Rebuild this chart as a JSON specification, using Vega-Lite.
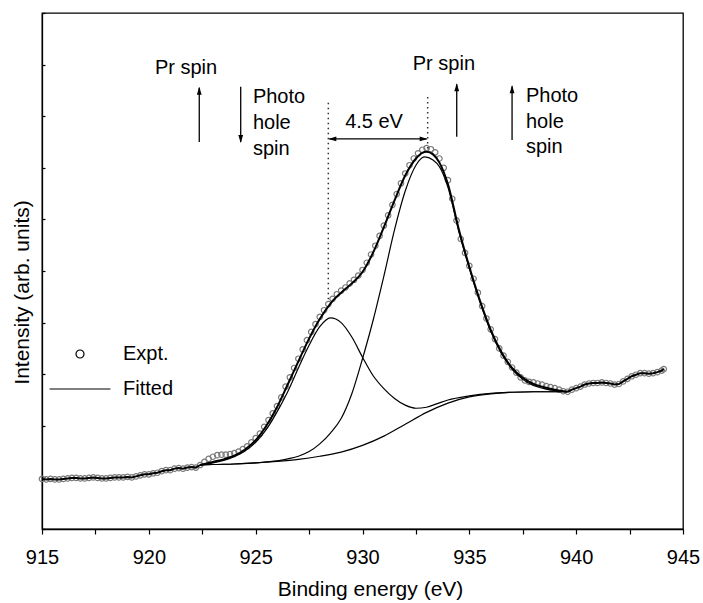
{
  "$schema": "https://vega.github.io/schema/vega-lite/v6.json",
  "width": 641,
  "height": 516,
  "autosize": {"type": "none"},
  "padding": {"left": 42, "top": 13, "right": 20, "bottom": 74},
  "background": "white",
  "config": {
    "font": "Liberation Sans",
    "view": {"stroke": "black", "strokeWidth": 1.3},
    "axis": {"domainColor": "black", "tickColor": "black", "labelColor": "black", "titleColor": "black", "grid": false, "labelFont": "Liberation Sans", "titleFont": "Liberation Sans", "titleFontWeight": "normal", "domainWidth": 1.3, "tickWidth": 1.2},
    "legend": {"labelFont": "Liberation Sans"}
  },
  "datasets": {
    "expt": [
      {"x":915.0,"y":0.97},{"x":915.2,"y":0.96},{"x":915.4,"y":0.97},{"x":915.6,"y":0.96},{"x":915.8,"y":0.96},
      {"x":916.0,"y":0.97},{"x":916.2,"y":0.98},{"x":916.4,"y":0.99},{"x":916.6,"y":0.99},{"x":916.8,"y":0.98},
      {"x":917.0,"y":0.98},{"x":917.2,"y":0.99},{"x":917.4,"y":1.00},{"x":917.6,"y":0.99},{"x":917.8,"y":0.98},
      {"x":918.0,"y":0.98},{"x":918.2,"y":0.99},{"x":918.4,"y":1.00},{"x":918.6,"y":1.00},{"x":918.8,"y":1.00},
      {"x":919.0,"y":1.01},{"x":919.2,"y":1.00},{"x":919.4,"y":1.02},{"x":919.6,"y":1.04},{"x":919.8,"y":1.06},
      {"x":920.0,"y":1.06},{"x":920.2,"y":1.08},{"x":920.4,"y":1.09},{"x":920.6,"y":1.12},{"x":920.8,"y":1.14},
      {"x":921.0,"y":1.14},{"x":921.2,"y":1.17},{"x":921.4,"y":1.18},{"x":921.6,"y":1.17},{"x":921.8,"y":1.19},
      {"x":922.0,"y":1.20},{"x":922.2,"y":1.19},{"x":922.4,"y":1.24},{"x":922.6,"y":1.30},{"x":922.8,"y":1.36},
      {"x":923.0,"y":1.40},{"x":923.2,"y":1.43},{"x":923.4,"y":1.44},{"x":923.6,"y":1.44},{"x":923.8,"y":1.45},
      {"x":924.0,"y":1.47},{"x":924.2,"y":1.50},{"x":924.4,"y":1.55},{"x":924.6,"y":1.60},{"x":924.8,"y":1.68},
      {"x":925.0,"y":1.76},{"x":925.2,"y":1.85},{"x":925.4,"y":1.98},{"x":925.6,"y":2.11},{"x":925.8,"y":2.24},
      {"x":926.0,"y":2.38},{"x":926.2,"y":2.55},{"x":926.4,"y":2.76},{"x":926.6,"y":2.94},{"x":926.8,"y":3.12},
      {"x":927.0,"y":3.30},{"x":927.2,"y":3.48},{"x":927.4,"y":3.66},{"x":927.6,"y":3.82},{"x":927.8,"y":3.97},
      {"x":928.0,"y":4.11},{"x":928.2,"y":4.24},{"x":928.4,"y":4.36},{"x":928.6,"y":4.46},{"x":928.8,"y":4.55},
      {"x":929.0,"y":4.62},{"x":929.2,"y":4.68},{"x":929.4,"y":4.76},{"x":929.6,"y":4.83},{"x":929.8,"y":4.91},
      {"x":930.0,"y":5.02},{"x":930.2,"y":5.16},{"x":930.4,"y":5.32},{"x":930.6,"y":5.49},{"x":930.8,"y":5.68},
      {"x":931.0,"y":5.88},{"x":931.2,"y":6.08},{"x":931.4,"y":6.28},{"x":931.6,"y":6.49},{"x":931.8,"y":6.70},
      {"x":932.0,"y":6.89},{"x":932.2,"y":7.05},{"x":932.4,"y":7.18},{"x":932.6,"y":7.28},{"x":932.8,"y":7.35},
      {"x":933.0,"y":7.38},{"x":933.2,"y":7.36},{"x":933.4,"y":7.30},{"x":933.6,"y":7.18},{"x":933.8,"y":7.00},
      {"x":934.0,"y":6.76},{"x":934.2,"y":6.40},{"x":934.4,"y":5.98},{"x":934.6,"y":5.62},{"x":934.8,"y":5.35},
      {"x":935.0,"y":5.10},{"x":935.2,"y":4.85},{"x":935.4,"y":4.58},{"x":935.6,"y":4.32},{"x":935.8,"y":4.08},
      {"x":936.0,"y":3.87},{"x":936.2,"y":3.68},{"x":936.4,"y":3.50},{"x":936.6,"y":3.36},{"x":936.8,"y":3.24},
      {"x":937.0,"y":3.13},{"x":937.2,"y":3.03},{"x":937.4,"y":2.94},{"x":937.6,"y":2.88},{"x":937.8,"y":2.85},
      {"x":938.0,"y":2.84},{"x":938.2,"y":2.82},{"x":938.4,"y":2.80},{"x":938.6,"y":2.77},{"x":938.8,"y":2.75},
      {"x":939.0,"y":2.73},{"x":939.2,"y":2.70},{"x":939.4,"y":2.67},{"x":939.6,"y":2.66},{"x":939.8,"y":2.70},
      {"x":940.0,"y":2.73},{"x":940.2,"y":2.76},{"x":940.4,"y":2.80},{"x":940.6,"y":2.82},{"x":940.8,"y":2.83},
      {"x":941.0,"y":2.83},{"x":941.2,"y":2.84},{"x":941.4,"y":2.83},{"x":941.6,"y":2.82},{"x":941.8,"y":2.80},
      {"x":942.0,"y":2.81},{"x":942.2,"y":2.86},{"x":942.4,"y":2.91},{"x":942.6,"y":2.96},{"x":942.8,"y":2.99},
      {"x":943.0,"y":3.02},{"x":943.2,"y":3.02},{"x":943.4,"y":3.01},{"x":943.6,"y":3.02},{"x":943.8,"y":3.04},
      {"x":944.0,"y":3.07},{"x":944.1,"y":3.10}
    ],
    "fit": [
      {"curve":"Envelope","x":922.4,"y":1.24},{"curve":"Envelope","x":923.0,"y":1.30},{"curve":"Envelope","x":923.5,"y":1.35},
      {"curve":"Envelope","x":924.0,"y":1.42},{"curve":"Envelope","x":924.5,"y":1.54},{"curve":"Envelope","x":925.0,"y":1.72},
      {"curve":"Envelope","x":925.5,"y":2.00},{"curve":"Envelope","x":926.0,"y":2.36},{"curve":"Envelope","x":926.5,"y":2.80},
      {"curve":"Envelope","x":927.0,"y":3.25},{"curve":"Envelope","x":927.5,"y":3.69},{"curve":"Envelope","x":928.0,"y":4.07},
      {"curve":"Envelope","x":928.5,"y":4.37},{"curve":"Envelope","x":929.0,"y":4.58},{"curve":"Envelope","x":929.5,"y":4.76},
      {"curve":"Envelope","x":930.0,"y":4.98},{"curve":"Envelope","x":930.5,"y":5.36},{"curve":"Envelope","x":931.0,"y":5.85},
      {"curve":"Envelope","x":931.5,"y":6.37},{"curve":"Envelope","x":932.0,"y":6.85},{"curve":"Envelope","x":932.5,"y":7.18},
      {"curve":"Envelope","x":932.8,"y":7.29},{"curve":"Envelope","x":933.0,"y":7.31},{"curve":"Envelope","x":933.3,"y":7.26},
      {"curve":"Envelope","x":933.6,"y":7.10},{"curve":"Envelope","x":934.0,"y":6.68},{"curve":"Envelope","x":934.5,"y":5.82},
      {"curve":"Envelope","x":935.0,"y":5.08},{"curve":"Envelope","x":935.5,"y":4.42},{"curve":"Envelope","x":936.0,"y":3.86},
      {"curve":"Envelope","x":936.5,"y":3.43},{"curve":"Envelope","x":937.0,"y":3.12},{"curve":"Envelope","x":937.5,"y":2.93},
      {"curve":"Envelope","x":938.0,"y":2.81},{"curve":"Envelope","x":938.5,"y":2.75},{"curve":"Envelope","x":939.0,"y":2.70},
      {"curve":"Envelope","x":939.6,"y":2.66},

      {"curve":"Peak 1","x":922.4,"y":1.24},{"curve":"Peak 1","x":923.0,"y":1.28},{"curve":"Peak 1","x":923.5,"y":1.33},
      {"curve":"Peak 1","x":924.0,"y":1.40},{"curve":"Peak 1","x":924.5,"y":1.51},{"curve":"Peak 1","x":925.0,"y":1.68},
      {"curve":"Peak 1","x":925.5,"y":1.93},{"curve":"Peak 1","x":926.0,"y":2.27},{"curve":"Peak 1","x":926.5,"y":2.66},
      {"curve":"Peak 1","x":927.0,"y":3.12},{"curve":"Peak 1","x":927.5,"y":3.56},{"curve":"Peak 1","x":928.0,"y":3.92},
      {"curve":"Peak 1","x":928.5,"y":4.09},{"curve":"Peak 1","x":929.0,"y":4.00},{"curve":"Peak 1","x":929.5,"y":3.72},
      {"curve":"Peak 1","x":930.0,"y":3.33},{"curve":"Peak 1","x":930.5,"y":2.97},{"curve":"Peak 1","x":931.0,"y":2.72},
      {"curve":"Peak 1","x":931.5,"y":2.53},{"curve":"Peak 1","x":932.0,"y":2.40},{"curve":"Peak 1","x":932.5,"y":2.34},
      {"curve":"Peak 1","x":933.0,"y":2.36},{"curve":"Peak 1","x":933.5,"y":2.43},{"curve":"Peak 1","x":934.0,"y":2.50},
      {"curve":"Peak 1","x":935.0,"y":2.58},{"curve":"Peak 1","x":936.0,"y":2.63},{"curve":"Peak 1","x":937.0,"y":2.65},
      {"curve":"Peak 1","x":938.0,"y":2.66},{"curve":"Peak 1","x":939.6,"y":2.66},

      {"curve":"Peak 2","x":922.4,"y":1.24},{"curve":"Peak 2","x":923.0,"y":1.25},{"curve":"Peak 2","x":924.0,"y":1.26},
      {"curve":"Peak 2","x":925.0,"y":1.28},{"curve":"Peak 2","x":925.5,"y":1.30},{"curve":"Peak 2","x":926.0,"y":1.32},
      {"curve":"Peak 2","x":926.5,"y":1.36},{"curve":"Peak 2","x":927.0,"y":1.41},{"curve":"Peak 2","x":927.5,"y":1.50},
      {"curve":"Peak 2","x":928.0,"y":1.65},{"curve":"Peak 2","x":928.5,"y":1.86},{"curve":"Peak 2","x":929.0,"y":2.14},
      {"curve":"Peak 2","x":929.5,"y":2.62},{"curve":"Peak 2","x":930.0,"y":3.30},{"curve":"Peak 2","x":930.5,"y":4.05},
      {"curve":"Peak 2","x":931.0,"y":4.90},{"curve":"Peak 2","x":931.5,"y":5.80},{"curve":"Peak 2","x":932.0,"y":6.55},
      {"curve":"Peak 2","x":932.5,"y":7.05},{"curve":"Peak 2","x":932.9,"y":7.21},{"curve":"Peak 2","x":933.3,"y":7.15},
      {"curve":"Peak 2","x":933.6,"y":7.02},{"curve":"Peak 2","x":934.0,"y":6.62},{"curve":"Peak 2","x":934.5,"y":5.78},
      {"curve":"Peak 2","x":935.0,"y":5.05},{"curve":"Peak 2","x":935.5,"y":4.40},{"curve":"Peak 2","x":936.0,"y":3.83},
      {"curve":"Peak 2","x":936.5,"y":3.40},{"curve":"Peak 2","x":937.0,"y":3.10},{"curve":"Peak 2","x":937.5,"y":2.90},
      {"curve":"Peak 2","x":938.0,"y":2.78},{"curve":"Peak 2","x":938.5,"y":2.72},{"curve":"Peak 2","x":939.0,"y":2.68},
      {"curve":"Peak 2","x":939.6,"y":2.66},

      {"curve":"Background","x":922.4,"y":1.24},{"curve":"Background","x":923.0,"y":1.25},{"curve":"Background","x":924.0,"y":1.26},
      {"curve":"Background","x":925.0,"y":1.28},{"curve":"Background","x":926.0,"y":1.31},{"curve":"Background","x":927.0,"y":1.35},
      {"curve":"Background","x":928.0,"y":1.41},{"curve":"Background","x":929.0,"y":1.49},{"curve":"Background","x":930.0,"y":1.62},
      {"curve":"Background","x":931.0,"y":1.80},{"curve":"Background","x":932.0,"y":2.03},{"curve":"Background","x":933.0,"y":2.26},
      {"curve":"Background","x":934.0,"y":2.44},{"curve":"Background","x":935.0,"y":2.56},{"curve":"Background","x":936.0,"y":2.62},
      {"curve":"Background","x":937.0,"y":2.65},{"curve":"Background","x":938.0,"y":2.66},{"curve":"Background","x":939.6,"y":2.66}
    ],
    "dots": [
      {"x":928.4,"y":8.26,"y2":4.44},
      {"x":933.05,"y":8.37,"y2":7.36}
    ],
    "shafts": [
      {"x":922.36,"x2":922.36,"y":7.50,"y2":8.55},
      {"x":924.30,"x2":924.30,"y":8.57,"y2":7.50},
      {"x":934.41,"x2":934.41,"y":7.60,"y2":8.62},
      {"x":937.00,"x2":937.00,"y":7.54,"y2":8.58},
      {"x":928.45,"x2":933.0,"y":7.56,"y2":7.56}
    ],
    "heads": [
      {"dir":"up","x":922.36,"y":8.57},
      {"dir":"down","x":924.30,"y":7.48},
      {"dir":"up","x":934.41,"y":8.64},
      {"dir":"up","x":937.00,"y":8.60},
      {"dir":"left","x":928.4,"y":7.56},
      {"dir":"right","x":933.05,"y":7.56}
    ],
    "notes": [
      {"align":"center","x":921.74,"y":8.82,"text":"Pr spin"},
      {"align":"center","x":933.81,"y":8.90,"text":"Pr spin"},
      {"align":"center","x":930.54,"y":7.77,"text":"4.5 eV"},
      {"align":"left","x":924.87,"y":8.26,"text":"Photo"},
      {"align":"left","x":924.87,"y":7.75,"text":"hole"},
      {"align":"left","x":924.87,"y":7.25,"text":"spin"},
      {"align":"left","x":937.65,"y":8.28,"text":"Photo"},
      {"align":"left","x":937.65,"y":7.77,"text":"hole"},
      {"align":"left","x":937.65,"y":7.29,"text":"spin"}
    ]
  },
  "encoding": {
    "x": {"field": "x", "type": "quantitative", "scale": {"domain": [915, 945], "nice": false, "zero": false},
          "axis": {"title": "Binding energy (eV)", "values": [915,917.5,920,922.5,925,927.5,930,932.5,935,937.5,940,942.5,945],
                   "labelExpr": "datum.value % 5 === 0 ? datum.label : ''", "labelFontSize": 20, "tickSize": 5,
                   "labelPadding": 29, "labelBaseline": "alphabetic", "titleFontSize": 21, "titleX": 328, "titleY": 66, "titleBaseline": "alphabetic", "labelFlush": false, "labelOverlap": false}},
    "y": {"field": "y", "type": "quantitative", "scale": {"domain": [0, 10], "nice": false, "zero": false},
          "axis": {"title": "Intensity (arb. units)", "values": [0,1,2,3,4,5,6,7,8,9,10], "labels": false, "tickSize": -3,
                   "titleFontSize": 21, "titleX": -14, "titleY": 279, "titleBaseline": "alphabetic", "titleAngle": -90, "titleAlign": "center"}}
  },
  "layer": [
    {
      "data": {"name": "expt"},
      "mark": {"type": "point", "filled": false, "stroke": "#7a7a7a", "strokeWidth": 1.2, "size": 30, "opacity": 1},
      "encoding": {
        "shape": {"datum": "Expt.", "type": "nominal",
                  "scale": {"domain": ["Expt.", "Fitted"], "range": ["circle", "M-7.6,0H7.6"]},
                  "legend": {"title": null, "orient": "none", "legendX": 28, "legendY": 331, "labelFontSize": 20,
                             "symbolSize": 64, "symbolStrokeColor": "black", "symbolStrokeWidth": 1.2, "symbolFillColor": "transparent",
                             "labelOffset": 33, "rowPadding": 15, "padding": 0}}
      }
    },
    {
      "data": {"name": "expt"},
      "transform": [{"filter": "datum.x <= 922.4 || datum.x >= 939.6"}, {"calculate": "datum.x < 930 ? 'L' : 'R'", "as": "side"}],
      "mark": {"type": "line", "stroke": "black", "strokeWidth": 2},
      "encoding": {"detail": {"field": "side"}}
    },
    {
      "data": {"name": "fit"},
      "transform": [{"filter": "datum.curve === 'Envelope'"}],
      "mark": {"type": "line", "stroke": "black", "strokeWidth": 2, "interpolate": "monotone"},
      "encoding": {}
    },
    {
      "data": {"name": "fit"},
      "transform": [{"filter": "datum.curve !== 'Envelope'"}],
      "mark": {"type": "line", "stroke": "black", "strokeWidth": 1.2, "interpolate": "monotone"},
      "encoding": {"detail": {"field": "curve"}}
    },
    {
      "data": {"name": "dots"},
      "mark": {"type": "rule", "stroke": "#333", "strokeWidth": 1.5, "strokeDash": [1.5, 3.5]},
      "encoding": {"y2": {"field": "y2"}}
    },
    {
      "data": {"name": "shafts"},
      "mark": {"type": "rule", "stroke": "black", "strokeWidth": 1.3},
      "encoding": {"x2": {"field": "x2"}, "y2": {"field": "y2"}}
    },
    {
      "data": {"name": "heads"},
      "transform": [{"filter": "datum.dir === 'up'"}],
      "mark": {"type": "point", "shape": "M0,0L0.6,2L-0.6,2Z", "size": 64, "filled": true, "color": "black", "opacity": 1, "strokeWidth": 0},
      "encoding": {}
    },
    {
      "data": {"name": "heads"},
      "transform": [{"filter": "datum.dir === 'down'"}],
      "mark": {"type": "point", "shape": "M0,0L0.6,-2L-0.6,-2Z", "size": 64, "filled": true, "color": "black", "opacity": 1, "strokeWidth": 0},
      "encoding": {}
    },
    {
      "data": {"name": "heads"},
      "transform": [{"filter": "datum.dir === 'left'"}],
      "mark": {"type": "point", "shape": "M0,0L2,0.6L2,-0.6Z", "size": 64, "filled": true, "color": "black", "opacity": 1, "strokeWidth": 0},
      "encoding": {}
    },
    {
      "data": {"name": "heads"},
      "transform": [{"filter": "datum.dir === 'right'"}],
      "mark": {"type": "point", "shape": "M0,0L-2,0.6L-2,-0.6Z", "size": 64, "filled": true, "color": "black", "opacity": 1, "strokeWidth": 0},
      "encoding": {}
    },
    {
      "data": {"name": "notes"},
      "transform": [{"filter": "datum.align === 'center'"}],
      "mark": {"type": "text", "align": "center", "baseline": "alphabetic", "fontSize": 20, "color": "black", "font": "Liberation Sans"},
      "encoding": {"text": {"field": "text"}}
    },
    {
      "data": {"name": "notes"},
      "transform": [{"filter": "datum.align === 'left'"}],
      "mark": {"type": "text", "align": "left", "baseline": "alphabetic", "fontSize": 20, "color": "black", "font": "Liberation Sans"},
      "encoding": {"text": {"field": "text"}}
    }
  ]
}
